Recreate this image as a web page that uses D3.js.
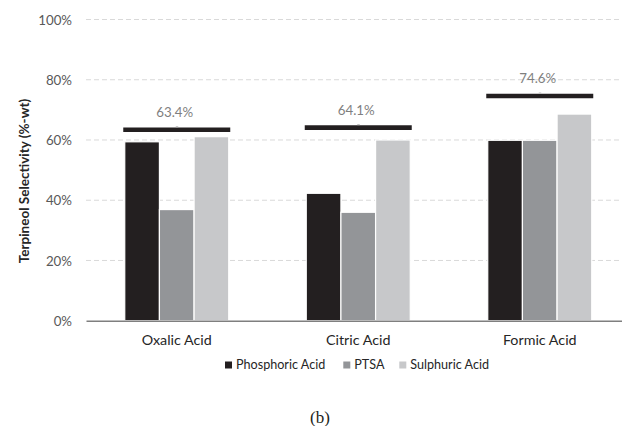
<!DOCTYPE html>
<html><head><meta charset="utf-8">
<script src="https://cdn.jsdelivr.net/npm/d3@7/dist/d3.min.js"></script>
<style>body{margin:0;background:#fff;} svg{display:block;}</style>
</head><body>
<svg id="chart" width="622" height="426"></svg>
<script>
const categories = ["Oxalic Acid", "Citric Acid", "Formic Acid"];
const seriesNames = ["Phosphoric Acid", "PTSA", "Sulphuric Acid"];
const phosphoric = [59.4, 42.3, 59.9];
const ptsa = [36.9, 36.0, 59.9];
const sulphuric = [61.1, 60.0, 68.6];
const maxValues = [63.4, 64.1, 74.6];
const maxLabels = ["63.4%", "64.1%", "74.6%"];
const yTicks = [0, 20, 40, 60, 80, 100];
const colors = ["#231f20", "#939598", "#c7c8ca"];

const seriesValues = [phosphoric, ptsa, sulphuric];
const svg = d3.select("#chart");
const font = "Lato, 'Open Sans', sans-serif";

const y = d3.scaleLinear().domain([0, 100]).range([320.7, 19.5]);
const x0 = d3.scaleBand().domain(categories).range([86, 630.5]).padding(0);
const gw = x0.bandwidth() * 0.573;
const x1 = d3.scaleBand().domain(seriesNames).range([0, gw]).padding(0);

// gridlines
const grid = svg.append("g");
grid.selectAll("line").data(yTicks.filter(d => d > 0)).join("line")
  .attr("x1", 86).attr("x2", 630).attr("y1", d => y(d)).attr("y2", d => y(d))
  .attr("stroke", "#d9d9d9").attr("stroke-width", 1).attr("stroke-dasharray", "5,3");

// y axis labels
const yAxis = d3.axisLeft(y).tickValues(yTicks).tickFormat(d => d + "%").tickSize(0).tickPadding(0);
const ya = svg.append("g").attr("transform", "translate(72,0)").call(yAxis);
ya.select(".domain").remove();
ya.selectAll("text").attr("font-family", font).attr("font-size", 13.3).attr("fill", "#595959").attr("dy", "0.35em");

// bars
const groups = svg.append("g").selectAll("g").data(categories).join("g")
  .attr("transform", d => `translate(${x0(d) + (x0.bandwidth() - gw) / 2},0)`);
groups.selectAll("rect").data((c, i) => seriesNames.map((s, j) => ({s, v: seriesValues[j][i], j})))
  .join("rect")
  .attr("x", d => x1(d.s)).attr("width", x1.bandwidth())
  .attr("y", d => y(d.v)).attr("height", d => y(0) - y(d.v))
  .attr("fill", d => colors[d.j]).attr("stroke", "#fff").attr("stroke-width", 1.2);

// x axis line
const xAxis = d3.axisBottom(x0).tickSize(0).tickPadding(14);
const xa = svg.append("g").attr("transform", `translate(0,${y(0)})`).call(xAxis);
xa.select(".domain").attr("stroke", "#7f7f7f").attr("stroke-width", 1.5);
xa.selectAll("text").attr("font-family", font).attr("font-size", 14.3).attr("fill", "#262626");

// max markers
const lw = 107;
const marks = svg.append("g").selectAll("g").data(categories).join("g");
marks.append("line")
  .attr("x1", d => x0(d) + x0.bandwidth() / 2 - lw / 2)
  .attr("x2", d => x0(d) + x0.bandwidth() / 2 + lw / 2)
  .attr("y1", (d, i) => y(maxValues[i])).attr("y2", (d, i) => y(maxValues[i]))
  .attr("stroke", "#231f20").attr("stroke-width", 4.6);
marks.append("line")
  .attr("x1", d => x0(d) + x0.bandwidth() / 2 - 1)
  .attr("x2", d => x0(d) + x0.bandwidth() / 2 + 1.5)
  .attr("y1", (d, i) => y(maxValues[i]) - 3).attr("y2", (d, i) => y(maxValues[i]) - 3)
  .attr("stroke", "#bbbbbb").attr("stroke-width", 1);
marks.append("text")
  .attr("x", d => x0(d) + x0.bandwidth() / 2 - 2)
  .attr("y", (d, i) => y(maxValues[i]) - 13)
  .attr("text-anchor", "middle").attr("font-family", font).attr("font-size", 13.3)
  .attr("fill", "#7f7f7f").text((d, i) => maxLabels[i]);

// y title
svg.append("text").attr("transform", "translate(29,181) rotate(-90)")
  .attr("text-anchor", "middle").attr("font-family", font).attr("font-weight", "bold")
  .attr("font-size", 13.5).attr("fill", "#262626").text("Terpineol Selectivity (%-wt)");

// legend
const legX = [225, 343.3, 399.3];
const lg = svg.append("g").selectAll("g").data(seriesNames).join("g")
  .attr("transform", (d, i) => `translate(${legX[i]},365)`);
lg.append("rect").attr("x", 0).attr("y", -3.5).attr("width", 7).attr("height", 7)
  .attr("fill", (d, i) => colors[i]);
lg.append("text").attr("x", 11).attr("y", 0).attr("dy", "0.35em")
  .attr("font-family", font).attr("font-size", 12.6).attr("fill", "#262626").text(d => d);

// caption
svg.append("text").attr("x", 320).attr("y", 423).attr("text-anchor", "middle")
  .attr("font-family", "'Liberation Serif', 'DejaVu Serif', serif").attr("font-size", 17)
  .attr("fill", "#231f20").text("(b)");
</script>
</body></html>
